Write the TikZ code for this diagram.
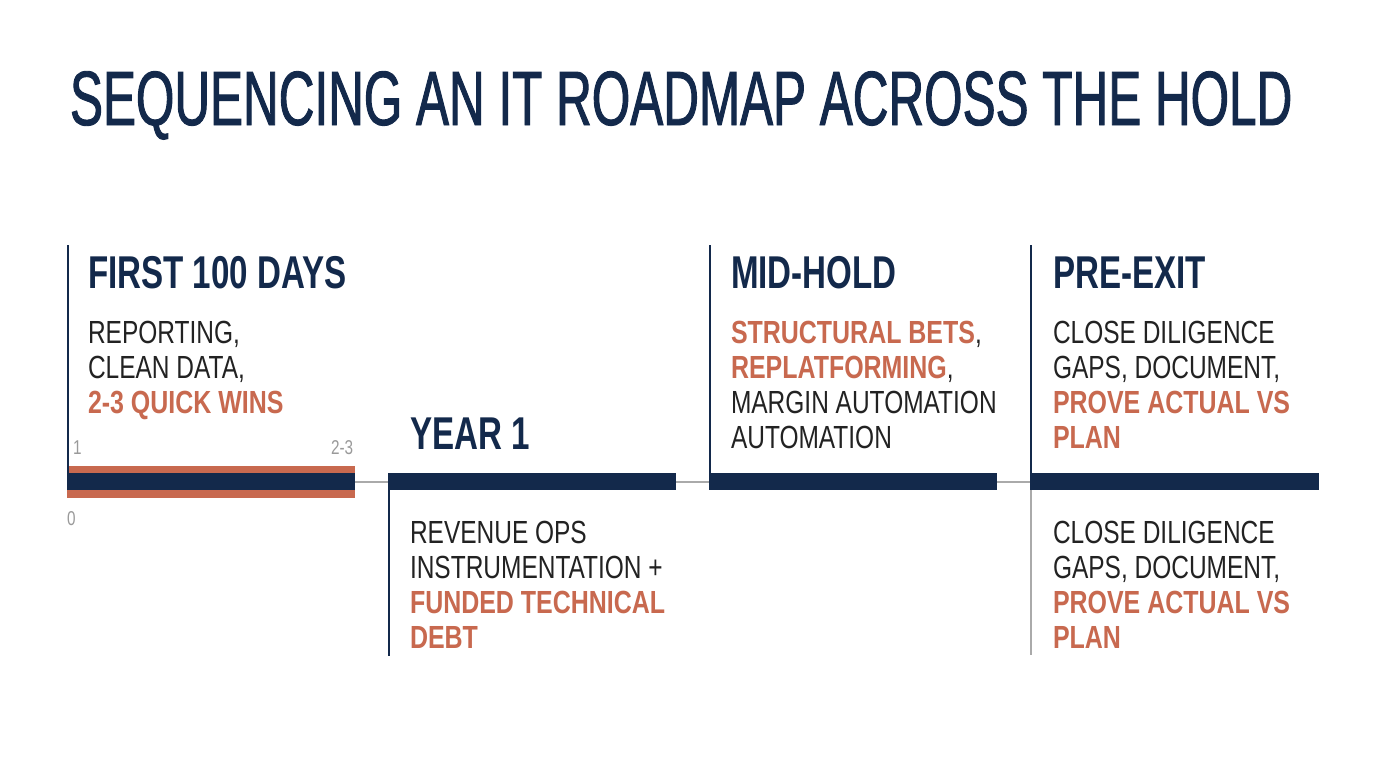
\documentclass[tikz,border=0pt]{standalone}
\usepackage{fontspec}
\setmainfont{Liberation Sans}
\newfontfamily\titlef[FakeStretch=0.642,FakeBold=1.2]{Liberation Sans}
\newfontfamily\headf[FakeStretch=0.72]{Liberation Sans Bold}
\newfontfamily\bodyf[FakeStretch=0.765]{Liberation Sans}
\newfontfamily\bodyb[FakeStretch=0.78]{Liberation Sans Bold}
\definecolor{navy}{HTML}{13294B}
\definecolor{rust}{HTML}{C8694F}
\definecolor{ink}{HTML}{222222}
\definecolor{lbl}{HTML}{9A9A9A}
\definecolor{link}{HTML}{AAAAAA}
\tikzset{
  txt/.style={anchor=base west, inner sep=0pt, outer sep=0pt},
  ttl/.style={txt, text=navy, font=\titlef\fontsize{77}{80}\selectfont},
  head/.style={txt, text=navy, font=\headf\fontsize{46}{50}\selectfont},
  body/.style={txt, text=ink, font=\bodyf\fontsize{32}{35}\selectfont},
  hi/.style={txt, text=rust, font=\bodyb\fontsize{32}{35}\selectfont},
  tick/.style={txt, text=lbl, font=\bodyf\fontsize{20}{22}\selectfont},
  bar/.style={fill=navy, draw=none, inner sep=0pt, outer sep=0pt, minimum height=17pt, anchor=north west},
  band/.style={fill=rust, draw=none, inner sep=0pt, outer sep=0pt, minimum height=32pt, anchor=north west},
  stem/.style={draw=navy, line width=2pt},
  gstem/.style={draw=link, line width=2pt},
  linkline/.style={draw=link, line width=2pt},
}
\begin{document}
\begin{tikzpicture}[x=1pt, y=-1pt]
\useasboundingbox (0,0) rectangle (1376,768);
\fill[white] (0,0) rectangle (1376,768);

% title
\node[ttl] (title) at (70,125) {SEQUENCING AN IT ROADMAP ACROSS THE HOLD};

% timeline bars
\node[band, minimum width=288pt] (band1) at (67,466) {};
\node[bar, minimum width=288pt] (bar1) at (67,473) {};
\node[bar, minimum width=288pt] (bar2) at (388,473) {};
\node[bar, minimum width=288pt] (bar3) at (709,473) {};
\node[bar, minimum width=289pt] (bar4) at (1030,473) {};

\draw[linkline] (bar1.east) -- (bar2.west);
\draw[linkline] (bar2.east) -- (bar3.west);
\draw[linkline] (bar3.east) -- (bar4.west);

% stems
\coordinate (t1) at (68,245);
\coordinate (t3) at (710,245);
\coordinate (t4) at (1031,245);
\coordinate (b2) at (389,656);
\coordinate (b4) at (1031,655);
\draw[stem] (t1) -- (t1 |- bar1.north);
\draw[stem] (t3) -- (t3 |- bar3.north);
\draw[stem] (t4) -- (t4 |- bar4.north);
\draw[stem] (b2 |- bar2.south) -- (b2);
\draw[gstem] (b4 |- bar4.south) -- (b4);

% tick labels
\node[tick] (k1) at (73,454) {1};
\node[tick] (k23) at (331,454) {2-3};
\node[tick] (k0) at (67,525) {0};

% first 100 days
\node[head] (h1) at (88,288) {FIRST 100 DAYS};
\node[body] (a1) at (88,343) {REPORTING,};
\node[body] (a2) at (88,378) {CLEAN DATA,};
\node[hi] (a3) at (88,413) {2-3 QUICK WINS};

% year 1
\node[head] (h2) at (410,449) {YEAR 1};
\node[body] (c1) at (410,543) {REVENUE OPS};
\node[body] (c2) at (410,578) {INSTRUMENTATION +};
\node[hi] (c3) at (410,613) {FUNDED TECHNICAL};
\node[hi] (c4) at (410,648) {DEBT};

% mid-hold
\node[head] (h3) at (731,288) {MID-HOLD};
\node[txt, font=\bodyf\fontsize{32}{35}\selectfont] (m1) at (731,343) {\textcolor{rust}{\bodyb STRUCTURAL BETS}\textcolor{ink}{,}};
\node[txt, font=\bodyf\fontsize{32}{35}\selectfont] (m2) at (731,378) {\textcolor{rust}{\bodyb REPLATFORMING}\textcolor{ink}{,}};
\node[body] (m3) at (731,413) {MARGIN AUTOMATION};
\node[body] (m4) at (731,448) {AUTOMATION};

% pre-exit
\node[head] (h4) at (1053,288) {PRE-EXIT};
\node[body] (p1) at (1053,343) {CLOSE DILIGENCE};
\node[body] (p2) at (1053,378) {GAPS, DOCUMENT,};
\node[hi] (p3) at (1053,413) {PROVE ACTUAL VS};
\node[hi] (p4) at (1053,448) {PLAN};

\node[body] (q1) at (1053,543) {CLOSE DILIGENCE};
\node[body] (q2) at (1053,578) {GAPS, DOCUMENT,};
\node[hi] (q3) at (1053,613) {PROVE ACTUAL VS};
\node[hi] (q4) at (1053,648) {PLAN};
\end{tikzpicture}
\end{document}
